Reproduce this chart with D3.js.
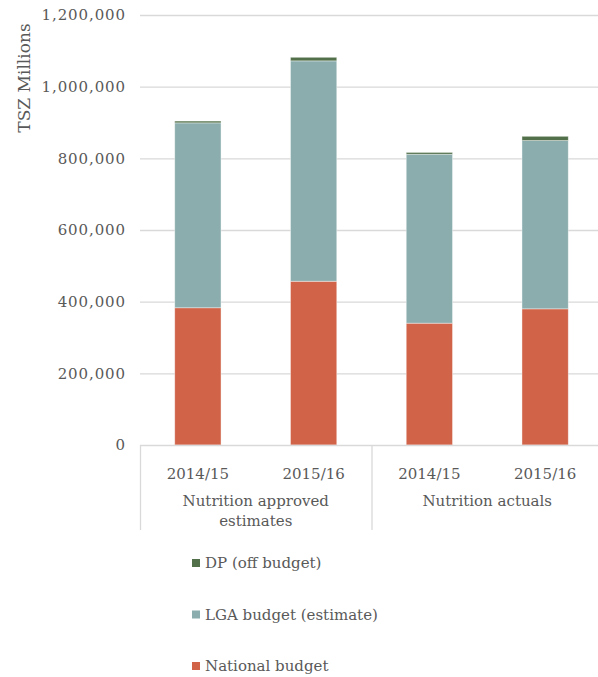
<!DOCTYPE html>
<html>
<head>
<meta charset="utf-8">
<script src="https://cdn.jsdelivr.net/npm/d3@7/dist/d3.min.js"></script>
<style>
  body { margin: 0; background: #fff; }
  text { font-family: Georgia, "DejaVu Serif", serif; fill: #595959; }
</style>
</head>
<body>
<div id="chart"></div>
<script>
const years = ["2014/15", "2015/16", "2014/15", "2015/16"];
const groups = ["Nutrition approved|estimates", "Nutrition actuals"];
const national = [383000, 457000, 340000, 380000];
const lga = [516000, 615000, 471500, 469500];
const dp = [5000, 10000, 5000, 12000];
const seriesNames = ["National budget", "LGA budget (estimate)", "DP (off budget)"];
const yTicks = [0, 200000, 400000, 600000, 800000, 1000000, 1200000];

const width = 598, height = 677;
const margin = { left: 140, top: 15, right: -5, bottom: 232 };

const svg = d3.select('#chart')
    .append('svg')
    .attr('width', width)
    .attr('height', height);

const rows = years.map((y, i) => ({
    key: i,
    "National budget": national[i],
    "LGA budget (estimate)": lga[i],
    "DP (off budget)": dp[i]
}));

const x = d3.scaleBand()
    .domain(rows.map(d => d.key))
    .range([margin.left, width - margin.right])
    .paddingInner(0.6)
    .paddingOuter(0.3);

const y = d3.scaleLinear()
    .domain([0, 1200000])
    .range([height - margin.bottom, margin.top]);

const color = d3.scaleOrdinal()
    .domain(seriesNames)
    .range(['#d16349', '#8badad', '#52704a']);

// gridlines
svg.append('g')
    .selectAll('line')
    .data(yTicks.slice(1))
    .join('line')
    .attr('x1', margin.left)
    .attr('x2', width)
    .attr('y1', d => y(d) + 0.5)
    .attr('y2', d => y(d) + 0.5)
    .attr('stroke', '#d9d9d9')
    .attr('stroke-width', 1.3);

// y labels
svg.append('g')
    .selectAll('text')
    .data(yTicks)
    .join('text')
    .attr('x', 126)
    .attr('y', d => y(d))
    .attr('dy', '0.35em')
    .attr('text-anchor', 'end')
    .style('font-size', '15px')
    .style('letter-spacing', '0.9px')
    .text(d => d3.format(',')(d));

// y title
svg.append('text')
    .attr('transform', 'translate(30, 78) rotate(-90)')
    .attr('text-anchor', 'middle')
    .style('font-size', '17px')
    .text('TSZ Millions');

// stacked bars
const stack = d3.stack().keys(seriesNames);
svg.append('g')
    .selectAll('g')
    .data(stack(rows))
    .join('g')
    .attr('fill', d => color(d.key))
    .selectAll('rect')
    .data(d => d)
    .join('rect')
    .attr('x', d => x(d.data.key))
    .attr('width', x.bandwidth())
    .attr('y', d => y(d[1]))
    .attr('height', d => y(d[0]) - y(d[1]))
    .attr('stroke', '#ffffff')
    .attr('stroke-opacity', 0.5)
    .attr('stroke-width', 0.8);

// category axis
const base = y(0);
const step = x.step();
const axisLeft = margin.left;
svg.append('line')
    .attr('x1', axisLeft).attr('x2', width)
    .attr('y1', base + 0.5).attr('y2', base + 0.5)
    .attr('stroke', '#d9d9d9').attr('stroke-width', 1.3);

[0, 2].forEach(i => {
    const xx = axisLeft + step * i;
    svg.append('line')
        .attr('x1', xx + 0.5).attr('x2', xx + 0.5)
        .attr('y1', base).attr('y2', 530)
        .attr('stroke', '#d9d9d9').attr('stroke-width', 1.3);
});

svg.append('g')
    .selectAll('text')
    .data(rows)
    .join('text')
    .attr('x', d => x(d.key) + x.bandwidth() / 2)
    .attr('y', base + 29)
    .attr('dy', '0.35em')
    .attr('text-anchor', 'middle')
    .style('font-size', '15px')
    .text(d => years[d.key]);

groups.forEach((g, gi) => {
    const cx = axisLeft + step * (gi * 2 + 1);
    const t = svg.append('text')
        .attr('x', cx)
        .attr('y', base + 56)
        .attr('text-anchor', 'middle')
        .style('font-size', '15px');
    g.split('|').forEach((line, li) => {
        t.append('tspan')
            .attr('x', cx)
            .attr('dy', li === 0 ? '0.35em' : '1.3em')
            .text(line);
    });
});

// legend
const legendItems = seriesNames.slice().reverse();
const legend = svg.append('g')
    .attr('transform', 'translate(192, 563)');
const items = legend.selectAll('g')
    .data(legendItems)
    .join('g')
    .attr('transform', (d, i) => `translate(0, ${ i * 51.5 })`);
items.append('rect')
    .attr('x', 0).attr('y', -4)
    .attr('width', 8).attr('height', 8)
    .attr('fill', d => color(d));
items.append('text')
    .attr('x', 13)
    .attr('dy', '0.35em')
    .style('font-size', '15px')
    .text(d => d);
</script>
</body>
</html>
